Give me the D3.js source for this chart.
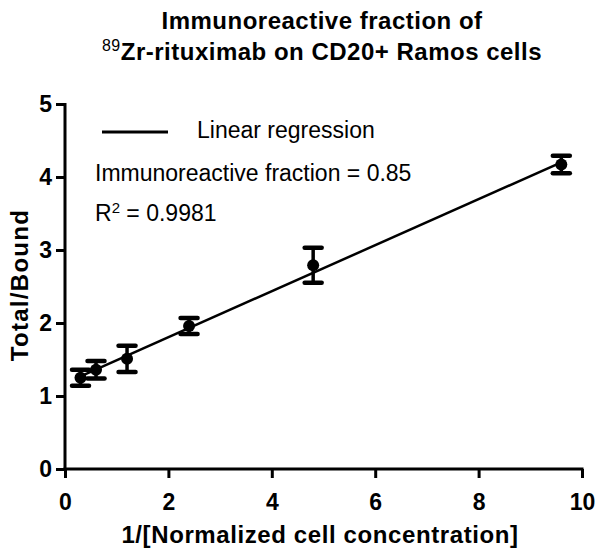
<!DOCTYPE html>
<html>
<head>
<meta charset="utf-8">
<script src="https://cdn.jsdelivr.net/npm/d3@7"></script>
<style>
  body { margin: 0; background: #fff; }
  svg { display: block; font-family: "Liberation Sans", Arial, sans-serif; }
</style>
</head>
<body>
<script>
// data
const xVals = [0.3, 0.6, 1.2, 2.4, 4.8, 9.6]
const yMeans = [1.25, 1.36, 1.51, 1.96, 2.79, 4.17]
const yErrs = [0.11, 0.12, 0.18, 0.11, 0.24, 0.12]
const fitX = [0.3, 9.6]
const fitY = [1.27, 4.2]
const xTicks = [0, 2, 4, 6, 8, 10]
const yTicks = [0, 1, 2, 3, 4, 5]

let width = 601, height = 559
let margin = {top: 104, right: 19, bottom: 90, left: 65}

const svg = d3.select('body').append('svg')
  .attr('width', width)
  .attr('height', height)

let x = d3.scaleLinear().domain([0, 10]).range([margin.left, width - margin.right])
let y = d3.scaleLinear().domain([0, 5]).range([height - margin.bottom, margin.top])

let points = xVals.map((v, i) => ({x: v, y: yMeans[i], e: yErrs[i]}))

// axes
let xAxis = g => g
    .attr('transform', `translate(0,${y(0)})`)
    .call(d3.axisBottom(x).tickValues(xTicks).tickSize(9).tickPadding(16).tickFormat(d3.format('d')))
    .call(g => g.select('.domain').attr('stroke-width', 3).attr('d', `M${x(0) - 1.5},0H${x(10) + 1.5}`))
    .call(g => g.selectAll('.tick line').attr('stroke-width', 3))
    .call(g => g.selectAll('.tick text').attr('font-size', 23).attr('font-weight', 'bold').attr('font-family', null))

let yAxis = g => g
    .attr('transform', `translate(${x(0)},0)`)
    .call(d3.axisLeft(y).tickValues(yTicks).tickSize(9).tickPadding(4).tickFormat(d3.format('d')))
    .call(g => g.select('.domain').attr('stroke-width', 3).attr('d', `M0,${y(5) - 1}V${y(0) + 1.5}`))
    .call(g => g.selectAll('.tick line').attr('stroke-width', 3))
    .call(g => g.selectAll('.tick text').attr('font-size', 23).attr('font-weight', 'bold').attr('font-family', null))

svg.append('g').call(xAxis)
svg.append('g').call(yAxis)

// regression line
svg.append('path')
  .datum(fitX.map((v, i) => [v, fitY[i]]))
  .attr('fill', 'none')
  .attr('stroke', '#000')
  .attr('stroke-width', 2.5)
  .attr('d', d3.line().x(d => x(d[0])).y(d => y(d[1])))

// error bars + points
let pts = svg.append('g').selectAll('g')
  .data(points)
  .join('g')

pts.append('line')
  .attr('x1', d => x(d.x)).attr('x2', d => x(d.x))
  .attr('y1', d => y(d.y + d.e)).attr('y2', d => y(d.y - d.e))
  .attr('stroke', '#000').attr('stroke-width', 3.5)

for (let s of [1, -1]) {
  pts.append('line')
    .attr('x1', d => x(d.x) - 8.5).attr('x2', d => x(d.x) + 8.5)
    .attr('y1', d => y(d.y + s * d.e)).attr('y2', d => y(d.y + s * d.e))
    .attr('stroke', '#000').attr('stroke-width', 4.5).attr('stroke-linecap', 'round')
}

pts.append('circle')
  .attr('cx', d => x(d.x))
  .attr('cy', d => y(d.y))
  .attr('r', 6)
  .attr('fill', '#000')

// legend
svg.append('line')
  .attr('x1', 102).attr('x2', 168)
  .attr('y1', 132).attr('y2', 132)
  .attr('stroke', '#000').attr('stroke-width', 3)

svg.append('text')
  .attr('x', 197).attr('y', 138)
  .attr('font-size', 23)
  .text('Linear regression')

svg.append('text')
  .attr('x', 95).attr('y', 181)
  .attr('font-size', 23)
  .text('Immunoreactive fraction = 0.85')

let r2 = svg.append('text')
  .attr('x', 95).attr('y', 221)
  .attr('font-size', 23)
r2.append('tspan').text('R')
r2.append('tspan').attr('font-size', 15).attr('dy', -8).text('2')
r2.append('tspan').attr('dy', 8).text(' = 0.9981')

// title
let title = svg.append('g')
  .attr('font-weight', 'bold')
  .attr('font-size', 24)
  .attr('letter-spacing', 0.5)
  .attr('text-anchor', 'middle')

title.append('text')
  .attr('x', 322).attr('y', 29)
  .text('Immunoreactive fraction of')

let t2 = title.append('text')
  .attr('x', 322).attr('y', 60)
t2.append('tspan').attr('font-size', 16).attr('font-weight', 'normal').attr('dy', -9).text('89')
t2.append('tspan').attr('dy', 9).text('Zr-rituximab on CD20+ Ramos cells')

// axis titles
svg.append('text')
  .attr('x', 320).attr('y', 543)
  .attr('text-anchor', 'middle')
  .attr('font-weight', 'bold')
  .attr('font-size', 24)
  .attr('letter-spacing', 0.6)
  .text('1/[Normalized cell concentration]')

svg.append('text')
  .attr('transform', 'translate(28,285) rotate(-90)')
  .attr('text-anchor', 'middle')
  .attr('font-weight', 'bold')
  .attr('font-size', 24)
  .attr('letter-spacing', 1.3)
  .text('Total/Bound')
</script>
</body>
</html>
